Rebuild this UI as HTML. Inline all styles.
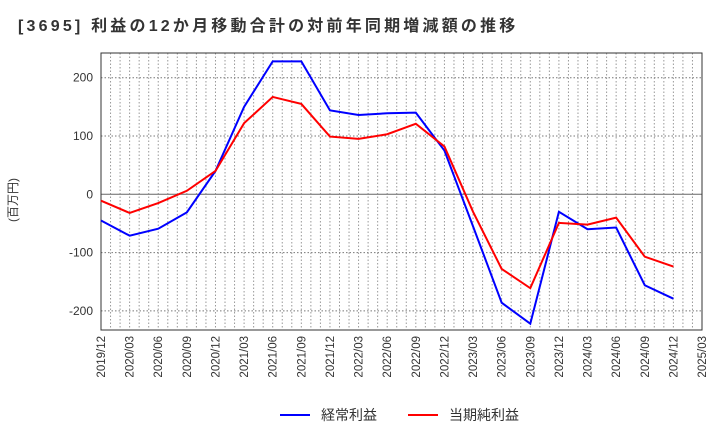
<!DOCTYPE html>
<html><head><meta charset="utf-8"><style>
body{margin:0;background:#fff;font-family:"Liberation Sans","Noto Sans CJK JP",sans-serif}
</style></head><body>
<svg id="c" width="720" height="440" xmlns="http://www.w3.org/2000/svg">
<text x="18" y="31" font-size="16" letter-spacing="3.2" font-weight="bold" fill="#333" font-family="Liberation Sans,Noto Sans CJK JP,sans-serif">[3695] 利益の12か月移動合計の対前年同期増減額の推移</text>
<text transform="translate(17,200) rotate(-90)" font-size="12" fill="#333" text-anchor="middle" font-family="Liberation Sans,Noto Sans CJK JP,sans-serif">(百万円)</text>
<g id="grid"></g><g id="axes"></g><g id="series"></g>
<g>
<line x1="280" y1="415" x2="310" y2="415" stroke="#0000ff" stroke-width="2"/>
<text x="321" y="420" font-size="14" fill="#333" font-family="Liberation Sans,Noto Sans CJK JP,sans-serif">経常利益</text>
<line x1="408" y1="415" x2="438" y2="415" stroke="#ff0000" stroke-width="2"/>
<text x="449" y="420" font-size="14" fill="#333" font-family="Liberation Sans,Noto Sans CJK JP,sans-serif">当期純利益</text>
</g>
</svg>
<script>
const categories=["2019/12","2020/03","2020/06","2020/09","2020/12","2021/03","2021/06","2021/09","2021/12","2022/03","2022/06","2022/09","2022/12","2023/03","2023/06","2023/09","2023/12","2024/03","2024/06","2024/09","2024/12","2025/03"];
const keijo=[-45,-71,-59,-31,40,150,228,228,144,136,139,140,75,-55,-186,-222,-30,-60,-57,-156,-179];
const junri=[-11,-32,-15,6,40,122,167,155,99,95,103,121,82,-30,-128,-161,-49,-52,-40,-107,-124];
const yTicks=[200,100,0,-100,-200];
const L=101,R=702,T=53,B=330;
const NS="http://www.w3.org/2000/svg";
function x(i){return L+(R-L)*i/(categories.length-1);}
function y(v){return 194.3-v*0.583;}
function mk(tag,attrs,parent){const e=document.createElementNS(NS,tag);for(const k in attrs)e.setAttribute(k,attrs[k]);document.getElementById(parent).appendChild(e);return e;}
for(let m=1;m<(categories.length-1)*3;m++){const xx=L+(R-L)*m/((categories.length-1)*3);
const g=mk('line',{x1:xx,x2:xx,y1:T,y2:B,stroke:'#999','stroke-dasharray':'1.5,2','stroke-width':1},'grid');

}
yTicks.forEach(v=>{
const g=mk('line',{x1:L,x2:R,y1:y(v),y2:y(v),stroke:v===0?'#666':'#777','stroke-dasharray':v===0?'':'1.5,2','stroke-width':1},'grid');


const t=mk('text',{x:L-8,y:y(v)+4,'font-size':12,fill:'#333','text-anchor':'end'},'axes');t.textContent=v;

});
const f=mk('rect',{x:L,y:T,width:R-L,height:B-T,fill:'none',stroke:'#333','stroke-width':1},'axes');


categories.forEach((c,i)=>{const t=mk('text',{transform:`translate(${x(i)+4},${B+6}) rotate(-90)`,'font-size':11.5,fill:'#333','text-anchor':'end'},'axes');t.textContent=c;

});
function line(arr,col,name){const p=mk('polyline',{points:arr.map((v,i)=>x(i)+','+y(v)).join(' '),fill:'none',stroke:col,'stroke-width':2},'series');

}
line(keijo,'#0000ff','series-keijo');
line(junri,'#ff0000','series-junri');
</script>
</body></html>
